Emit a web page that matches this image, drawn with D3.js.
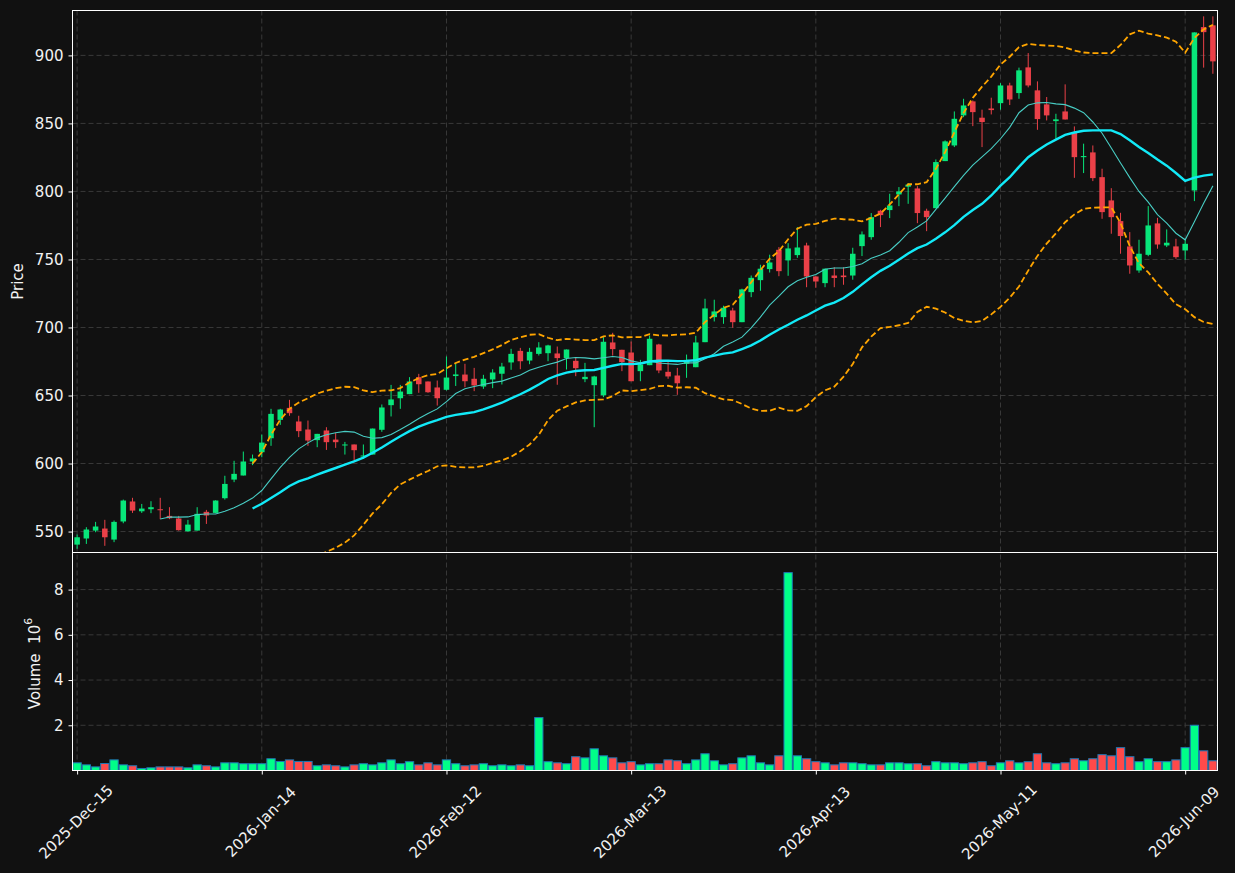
<!DOCTYPE html>
<html>
<head>
<meta charset="utf-8">
<script src="https://cdn.jsdelivr.net/npm/d3@7"></script>
<style>
  html, body { margin: 0; padding: 0; background: #111111; }
  svg { display: block; }
  text { font-family: "DejaVu Sans", sans-serif; }
</style>
</head>
<body>
<div id="output"></div>
<script>
// OHLC per trading day, 2025-Dec-15 .. 2026-Jun-12
var opens = [540.4,544.9,550.7,552.2,544.1,557.4,572.1,564.9,566.4,566.4,561.5,559.6,550.2,550.7,564.5,563.7,574.5,588.2,591.2,601.5,
  608.3,618.6,632.1,640.9,630.9,625.0,617.2,624.3,617.6,613.5,614.0,605.1,606.6,624.8,642.9,648.0,651.0,663.5,660.3,655.9,
  654.2,664.3,665.4,662.3,656.6,661.8,666.0,674.3,682.8,675.7,680.6,681.1,680.9,677.5,675.5,662.0,657.6,650.2,689.0,683.6,
  681.6,667.9,672.3,687.5,667.4,664.7,673.3,670.8,689.2,707.6,707.6,712.5,703.9,726.0,734.8,742.9,757.1,749.3,753.2,760.3,
  737.5,732.6,738.2,738.2,738.2,759.8,766.4,785.8,786.3,797.8,803.5,802.2,785.8,787.7,822.3,833.8,855.9,866.2,854.2,861.0,
  864.9,877.9,872.3,891.2,874.3,864.0,851.7,858.8,843.6,825.2,828.7,810.5,793.4,778.2,759.6,741.9,753.4,776.5,760.3,759.6,
  756.6,800.7,920.8,922.1];
var highs = [547.8,553.2,557.1,558.6,558.1,573.5,574.8,570.3,572.3,574.8,567.9,561.5,558.6,567.9,565.9,573.0,591.0,602.0,608.8,606.6,
  621.3,640.2,640.2,646.8,635.1,631.6,621.8,626.7,622.6,615.9,614.0,614.0,625.7,643.4,657.8,657.8,663.5,665.9,660.3,661.0,
  678.7,674.0,673.3,670.3,665.2,669.3,674.0,684.3,685.0,685.0,689.2,687.3,686.0,683.8,678.2,674.0,664.5,692.9,696.1,683.6,
  689.7,676.2,694.1,688.0,674.5,670.3,680.1,693.9,721.1,720.4,716.0,714.5,728.5,738.2,746.1,753.5,759.1,762.0,773.8,762.3,
  737.5,743.2,744.3,744.3,758.6,770.6,784.1,786.5,798.3,803.2,806.1,803.9,787.3,823.5,837.5,858.8,868.1,866.9,860.1,868.9,
  879.6,879.9,891.0,901.7,880.9,869.4,857.1,878.7,847.8,835.1,833.8,816.7,802.4,784.3,770.1,764.5,789.2,780.6,772.1,765.2,
  765.2,916.9,928.7,928.7];
var lows = [537.3,540.9,549.5,539.5,542.2,556.1,563.7,563.7,563.5,559.1,559.1,550.7,550.0,550.7,555.6,563.5,573.5,586.3,591.2,598.8,
  604.6,613.0,628.4,635.1,619.4,613.0,612.0,610.0,611.5,606.6,601.0,603.4,606.6,623.3,634.6,640.2,651.0,652.0,652.0,642.6,
  653.7,657.0,656.1,653.2,654.9,655.4,658.1,668.9,669.3,673.0,679.4,675.2,657.9,669.1,664.2,659.8,626.7,648.8,679.4,667.9,
  660.5,660.5,672.3,666.4,662.3,650.5,663.0,670.8,689.2,704.4,702.7,699.8,703.9,722.3,727.0,740.4,737.7,738.0,751.2,729.6,
  729.2,729.6,729.6,731.4,735.1,752.5,764.5,773.8,780.4,789.2,790.9,776.7,770.8,787.7,822.3,832.6,854.6,848.0,832.6,856.6,
  860.1,863.5,868.1,876.5,845.3,852.2,838.7,852.9,810.0,813.5,807.6,779.9,768.9,754.2,739.5,740.2,752.4,757.9,759.1,750.5,
  749.8,792.9,891.0,886.5];
var closes = [545.8,551.5,553.7,545.8,557.1,572.8,565.4,566.9,567.9,565.7,559.8,551.0,555.1,563.0,561.8,572.8,585.0,592.4,601.5,603.7,
  615.4,636.5,639.7,637.0,623.8,616.9,621.8,615.7,615.7,614.0,609.8,605.9,625.7,641.2,647.1,652.9,660.3,658.3,652.4,648.0,
  663.2,665.5,660.5,657.4,662.3,666.9,671.3,680.6,675.2,682.1,685.3,686.8,677.5,683.8,670.1,663.7,664.0,689.5,684.1,674.5,
  660.5,672.8,691.7,668.4,664.0,659.0,676.2,689.0,714.0,711.8,714.5,703.9,728.0,736.5,743.2,747.8,741.4,758.1,758.8,737.5,
  733.8,743.2,736.4,737.0,754.2,768.4,781.1,782.6,789.7,800.0,805.0,784.1,781.1,821.6,836.8,853.4,863.2,858.3,851.0,859.8,
  877.9,867.6,889.0,877.9,853.2,855.9,853.0,852.9,825.2,826.0,809.8,784.8,781.1,767.2,745.6,754.2,775.0,761.0,762.3,751.7,
  761.5,916.9,917.1,895.6];
// volume in millions
var volumes = [0.34,0.25,0.16,0.31,0.47,0.25,0.21,0.09,0.12,0.16,0.16,0.16,0.12,0.25,0.21,0.16,0.34,0.34,0.30,0.30,
  0.30,0.52,0.40,0.47,0.40,0.40,0.21,0.25,0.21,0.16,0.25,0.30,0.25,0.34,0.47,0.30,0.39,0.25,0.34,0.25,
  0.47,0.30,0.21,0.25,0.30,0.21,0.25,0.21,0.25,0.21,2.34,0.39,0.34,0.30,0.61,0.56,0.96,0.65,0.56,0.34,
  0.39,0.25,0.30,0.30,0.47,0.43,0.30,0.47,0.74,0.43,0.25,0.30,0.56,0.65,0.34,0.25,0.65,8.75,0.65,0.52,
  0.39,0.34,0.25,0.34,0.34,0.30,0.25,0.25,0.34,0.34,0.30,0.30,0.21,0.39,0.34,0.34,0.30,0.34,0.39,0.21,
  0.34,0.43,0.34,0.39,0.74,0.34,0.30,0.34,0.52,0.43,0.52,0.70,0.65,1.01,0.61,0.39,0.52,0.39,0.39,0.47,
  1.01,2.00,0.87,0.43];

var tickIndex = [0, 20, 40, 60, 80, 100, 120];
var tickLabels = ['2025-Dec-15', '2026-Jan-14', '2026-Feb-12', '2026-Mar-13', '2026-Apr-13', '2026-May-11', '2026-Jun-09'];
var priceTicks = [550, 600, 650, 700, 750, 800, 850, 900];
var volumeTicks = [2, 4, 6, 8];

var width = 1235, height = 873;
var left = 72.5, right = 1217.5;
var priceTop = 10.5, priceBottom = 552.5, volBottom = 770.5;
var fontSize = '15px';

var upColor = '#08e67a', downColor = '#ea4048';
var volUp = '#00ff88', volDown = '#ff4a4a';
var textColor = '#f2f2f2', gridColor = '#3d3d3d';

var n = closes.length;
var idx = d3.range(n);

var svg = d3.select('#output').append('svg')
  .attr('width', width).attr('height', height)
  .style('background', '#111111');

var x = d3.scaleLinear().domain([-0.5, n - 0.5]).range([left, right]);
var yP = d3.scaleLinear().domain([534.6, 933]).range([priceBottom, priceTop]);
var yV = d3.scaleLinear().domain([0, 9.64]).range([volBottom, priceBottom]);
var step = x(1) - x(0);

svg.append('clipPath').attr('id', 'clipP').append('rect')
  .attr('x', left).attr('y', priceTop).attr('width', right - left).attr('height', priceBottom - priceTop);

// grid
var grid = svg.append('g').attr('stroke', gridColor).attr('stroke-width', 0.9).attr('stroke-dasharray', '5,3');
grid.selectAll('.vg').data(tickIndex).enter().append('line')
  .attr('x1', (d) => x(d)).attr('x2', (d) => x(d))
  .attr('y1', priceTop).attr('y2', volBottom);
grid.selectAll('.pg').data(priceTicks).enter().append('line')
  .attr('x1', left).attr('x2', right)
  .attr('y1', (d) => yP(d)).attr('y2', (d) => yP(d));
grid.selectAll('.vgl').data(volumeTicks).enter().append('line')
  .attr('x1', left).attr('x2', right)
  .attr('y1', (d) => yV(d)).attr('y2', (d) => yV(d));

// moving averages & bollinger bands from closes
function rolling(w, fn) {
  return idx.map(function(i) {
    if (i < w - 1) return null;
    return fn(closes.slice(i - w + 1, i + 1));
  });
}
var ma10 = rolling(10, (a) => d3.mean(a));
var ma20 = rolling(20, (a) => d3.mean(a));
var sd20 = rolling(20, function(a) {
  var m = d3.mean(a);
  return Math.sqrt(d3.mean(a, (v) => (v - m) * (v - m)));
});
var upper = idx.map((i) => ma20[i] == null ? null : ma20[i] + 2 * sd20[i]);
var lower = idx.map((i) => ma20[i] == null ? null : ma20[i] - 2 * sd20[i]);

function lineOf(arr) {
  return d3.line()
    .defined((i) => arr[i] != null)
    .x((i) => x(i))
    .y((i) => yP(arr[i]))(idx);
}

// candles
var candles = svg.append('g').attr('clip-path', 'url(#clipP)');
candles.selectAll('line').data(idx).enter().append('line')
  .attr('x1', (i) => x(i)).attr('x2', (i) => x(i))
  .attr('y1', (i) => yP(highs[i])).attr('y2', (i) => yP(lows[i]))
  .attr('stroke', (i) => closes[i] >= opens[i] ? upColor : downColor)
  .attr('stroke-width', 1);
candles.selectAll('rect').data(idx).enter().append('rect')
  .attr('x', (i) => x(i) - step * 0.3)
  .attr('width', step * 0.6)
  .attr('y', (i) => yP(Math.max(opens[i], closes[i])))
  .attr('height', (i) => Math.max(1, Math.abs(yP(opens[i]) - yP(closes[i]))))
  .attr('fill', (i) => closes[i] >= opens[i] ? upColor : downColor);

var lines = svg.append('g').attr('clip-path', 'url(#clipP)').attr('fill', 'none');
lines.append('path').attr('d', lineOf(upper))
  .attr('stroke', '#ffa500').attr('stroke-width', 1.8).attr('stroke-dasharray', '6,3');
lines.append('path').attr('d', lineOf(lower))
  .attr('stroke', '#ffa500').attr('stroke-width', 1.8).attr('stroke-dasharray', '6,3');
lines.append('path').attr('d', lineOf(ma10))
  .attr('stroke', '#48cdc4').attr('stroke-width', 1.1);
lines.append('path').attr('d', lineOf(ma20))
  .attr('stroke', '#12eaf8').attr('stroke-width', 2.4);

// volume
svg.append('g').selectAll('rect').data(idx).enter().append('rect')
  .attr('x', (i) => x(i) - step * 0.45)
  .attr('width', step * 0.9)
  .attr('y', (i) => yV(volumes[i]))
  .attr('height', (i) => yV(0) - yV(volumes[i]))
  .attr('fill', (i) => closes[i] >= opens[i] ? volUp : volDown)
  .attr('stroke', '#1f77b4').attr('stroke-width', 1);

// frames
svg.append('rect').attr('x', left).attr('y', priceTop)
  .attr('width', right - left).attr('height', priceBottom - priceTop)
  .attr('fill', 'none').attr('stroke', '#ffffff').attr('stroke-width', 1);
svg.append('rect').attr('x', left).attr('y', priceBottom)
  .attr('width', right - left).attr('height', volBottom - priceBottom)
  .attr('fill', 'none').attr('stroke', '#ffffff').attr('stroke-width', 1);

// axes
function styleAxis(g) {
  g.select('.domain').remove();
  g.selectAll('.tick line').attr('stroke', '#ffffff');
  g.selectAll('.tick text').attr('fill', textColor).style('font-size', fontSize)
    .style('font-family', '"DejaVu Sans", sans-serif');
}
svg.append('g').attr('transform', `translate(${left},0)`)
  .call(d3.axisLeft(yP).tickValues(priceTicks).tickSize(4).tickPadding(5))
  .call(styleAxis);
svg.append('g').attr('transform', `translate(${left},0)`)
  .call(d3.axisLeft(yV).tickValues(volumeTicks).tickSize(4).tickPadding(5))
  .call(styleAxis);

var xAxis = svg.append('g').attr('transform', `translate(0,${volBottom})`)
  .call(d3.axisBottom(x).tickValues(tickIndex).tickSize(4).tickFormat(''));
xAxis.select('.domain').remove();
xAxis.selectAll('.tick line').attr('stroke', '#ffffff');

svg.append('g').selectAll('text').data(tickIndex).enter().append('text')
  .attr('transform', (d) => `translate(${x(d) - 1},822) rotate(-45)`)
  .attr('text-anchor', 'middle').attr('dominant-baseline', 'central')
  .attr('fill', textColor).style('font-size', fontSize)
  .text((d, i) => tickLabels[i]);

// axis labels
svg.append('text')
  .attr('transform', `translate(18,${(priceTop + priceBottom) / 2}) rotate(-90)`)
  .attr('text-anchor', 'middle').attr('dominant-baseline', 'central')
  .attr('fill', textColor).style('font-size', fontSize)
  .text('Price');
var vl = svg.append('text')
  .attr('transform', `translate(35,${(priceBottom + volBottom) / 2 + 2}) rotate(-90)`)
  .attr('text-anchor', 'middle').attr('dominant-baseline', 'central')
  .style('white-space', 'pre')
  .attr('fill', textColor).style('font-size', fontSize);
vl.append('tspan').text('Volume  10');
vl.append('tspan').attr('dy', -7).style('font-size', '11px').text('6');
</script>
</body>
</html>
